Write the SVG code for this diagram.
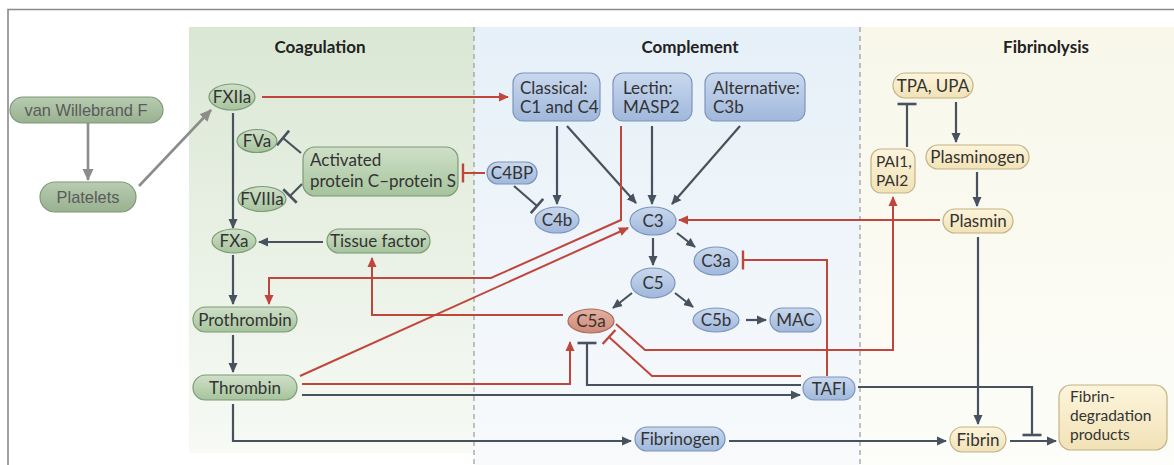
<svg xmlns="http://www.w3.org/2000/svg" width="1174" height="465" viewBox="0 0 1174 465">
<defs>
  <linearGradient id="bgCoag" x1="0" y1="0" x2="0" y2="1">
    <stop offset="0" stop-color="#dae7d4"/><stop offset="1" stop-color="#f7faf5"/>
  </linearGradient>
  <linearGradient id="bgComp" x1="0" y1="0" x2="0" y2="1">
    <stop offset="0" stop-color="#e6f0f8"/><stop offset="1" stop-color="#f8fafc"/>
  </linearGradient>
  <linearGradient id="bgFib" x1="0" y1="0" x2="0" y2="1">
    <stop offset="0" stop-color="#f8f7ea"/><stop offset="1" stop-color="#fdfdf9"/>
  </linearGradient>
  <linearGradient id="gGreen" x1="0" y1="0" x2="0" y2="1">
    <stop offset="0" stop-color="#cfe0c8"/><stop offset="1" stop-color="#a6c49d"/>
  </linearGradient>
  <linearGradient id="gGray" x1="0" y1="0" x2="0" y2="1">
    <stop offset="0" stop-color="#b8ccb1"/><stop offset="1" stop-color="#98b18f"/>
  </linearGradient>
  <linearGradient id="gBlue" x1="0" y1="0" x2="0" y2="1">
    <stop offset="0" stop-color="#c9d8ee"/><stop offset="1" stop-color="#a0b8dc"/>
  </linearGradient>
  <linearGradient id="gYellow" x1="0" y1="0" x2="0" y2="1">
    <stop offset="0" stop-color="#fdf5dc"/><stop offset="1" stop-color="#f1e2b6"/>
  </linearGradient>
  <linearGradient id="gRed" x1="0" y1="0" x2="0" y2="1">
    <stop offset="0" stop-color="#e5b0a0"/><stop offset="1" stop-color="#cf8a77"/>
  </linearGradient>
  <marker id="aDark" markerUnits="userSpaceOnUse" viewBox="0 -5 10 10" refX="9" refY="0" markerWidth="10" markerHeight="10" orient="auto">
    <path d="M0,-4.5 L10,0 L0,4.5 z" fill="#48525f"/>
  </marker>
  <marker id="aRed" markerUnits="userSpaceOnUse" viewBox="0 -5 10 10" refX="9" refY="0" markerWidth="10" markerHeight="10" orient="auto">
    <path d="M0,-4.5 L10,0 L0,4.5 z" fill="#c0463c"/>
  </marker>
  <marker id="aGray" markerUnits="userSpaceOnUse" viewBox="0 -6 12 12" refX="11" refY="0" markerWidth="12" markerHeight="12" orient="auto">
    <path d="M0,-5.5 L12,0 L0,5.5 z" fill="#8c8c8c"/>
  </marker>
  <marker id="tDark" markerUnits="userSpaceOnUse" viewBox="-2 -10 4 20" refX="0" refY="0" markerWidth="4" markerHeight="20" orient="auto">
    <path d="M0,-9.5 V9.5" stroke="#48525f" stroke-width="2.6"/>
  </marker>
  <marker id="tRed" markerUnits="userSpaceOnUse" viewBox="-2 -10 4 20" refX="0" refY="0" markerWidth="4" markerHeight="20" orient="auto">
    <path d="M0,-9.5 V9.5" stroke="#c0463c" stroke-width="2.4"/>
  </marker>
  <style>
    .title{font-family:Lato,"Open Sans",sans-serif;font-weight:bold;font-size:17px;fill:#222;text-anchor:middle}
    .lbl{font-family:Lato,"Open Sans",sans-serif;font-size:17px;fill:#333;text-anchor:middle}
    .lbll{font-family:Lato,"Open Sans",sans-serif;font-size:17px;fill:#333}
    .small{font-size:15.5px}
    .glbl{font-family:"Liberation Sans",Arial,sans-serif;font-size:16.4px;fill:#5a5a5a;text-anchor:middle}
    .green{fill:url(#gGreen);stroke:#7d9a75;stroke-width:1.2}
    .gray{fill:url(#gGray);stroke:#7e9877;stroke-width:1.2}
    .blue{fill:url(#gBlue);stroke:#7d94bb;stroke-width:1.2}
    .yellow{fill:url(#gYellow);stroke:#c2b286;stroke-width:1.2}
    .red{fill:url(#gRed);stroke:#a56a5b;stroke-width:1.2}
    .cd{fill:none;stroke:#48525f;stroke-width:2.2}
    .cr{fill:none;stroke:#c0463c;stroke-width:2}
    .cg{fill:none;stroke:#8c8c8c;stroke-width:2.6}
    .ad{marker-end:url(#aDark)}
    .ar{marker-end:url(#aRed)}
    .ag{marker-end:url(#aGray)}
    .td{marker-end:url(#tDark)}
    .tr{marker-end:url(#tRed)}
    .dash{stroke:#9a9a9a;stroke-width:1.2;stroke-dasharray:5 4;fill:none}
  </style>
</defs>

<rect x="0" y="0" width="1174" height="465" fill="#ffffff"/>
<path d="M8,465 V9.5 H1174" fill="none" stroke="#8a8a8a" stroke-width="1.6"/>

<g id="panels">
  <rect x="189" y="27" width="285" height="426" fill="url(#bgCoag)"/>
  <rect x="474" y="27" width="386" height="438" fill="url(#bgComp)"/>
  <rect x="860" y="27" width="314" height="438" fill="url(#bgFib)"/>
  <line class="dash" x1="474" y1="27" x2="474" y2="465"/>
  <line class="dash" x1="860" y1="27" x2="860" y2="465"/>
  <text class="title" x="320" y="53">Coagulation</text>
  <text class="title" x="690" y="53">Complement</text>
  <text class="title" x="1046" y="53">Fibrinolysis</text>
</g>

<g id="connectors">
  <path class="cg ag" d="M88,123 V180"/>
  <path class="cg ag" d="M139,186 L211,110"/>

  <path class="cd ad" d="M233,113 V228"/>
  <path class="cd ad" d="M323,242 H259"/>
  <path class="cd ad" d="M233,255 V304"/>
  <path class="cd ad" d="M233,335 V372"/>
  <path class="cd ad" d="M302,395 H800"/>
  <path class="cd ad" d="M233,404 V441 H631"/>
  <path class="cd ad" d="M729,441 H946"/>
  <path class="cd ad" d="M1010,441 H1056"/>
  <path class="cd ad" d="M978,237 V424"/>
  <path class="cd ad" d="M956,102 V142"/>
  <path class="cd ad" d="M977,172 V206"/>
  <path class="cd td" d="M907,147 V104"/>
  <path class="cd td" d="M858,387 H1032 V435"/>
  <path class="cd td" d="M301,153 L283,138"/>
  <path class="cd td" d="M302,184 L290,196"/>
  <path class="cd td" d="M514,186 L537,206"/>
  <path class="cd ad" d="M557,126 V204"/>
  <path class="cd ad" d="M567,126 L636,203"/>
  <path class="cd ad" d="M652,126 V204"/>
  <path class="cd ad" d="M740,126 L672,204"/>
  <path class="cd ad" d="M653,238 V265"/>
  <path class="cd ad" d="M677,233 L695,247"/>
  <path class="cd ad" d="M632,293 L613,308"/>
  <path class="cd ad" d="M675,293 L693,307"/>
  <path class="cd ad" d="M746,320 H766"/>
  <path class="cd td" d="M801,385 H587 V343"/>

  <path class="cr ar" d="M262,97 H508"/>
  <path class="cr tr" d="M485,173 H463"/>
  <path class="cr ar" d="M621,126 V220 L491,278 H269 V304"/>
  <path class="cr ar" d="M300,376 L628,228"/>
  <path class="cr ar" d="M302,384 H570 V342"/>
  <path class="cr ar" d="M563,315 H372 V258"/>
  <path class="cr ar" d="M940,220 H679"/>
  <path class="cr ar" d="M616,324 L645,350 H893 V197"/>
  <path class="cr tr" d="M827,376 V260 H743"/>
  <path class="cr tr" d="M801,376 H652 L609,337"/>
</g>

<g id="node-vwf"><rect class="gray" x="10" y="97" width="153" height="26" rx="13"/><text class="glbl" x="86" y="116">van Willebrand F</text></g>
<g id="node-platelets"><rect class="gray" x="40" y="182" width="96" height="30" rx="15"/><text class="glbl" x="88" y="203">Platelets</text></g>

<g id="node-fxiia"><ellipse class="green" cx="232" cy="97" rx="23" ry="13"/><text class="lbl" x="232" y="103">FXIIa</text></g>
<g id="node-fva"><ellipse class="green" cx="257" cy="141" rx="20" ry="11.5"/><text class="lbl" x="257" y="147">FVa</text></g>
<g id="node-fviiia"><ellipse class="green" cx="262" cy="199" rx="24" ry="12.5"/><text class="lbl" x="262" y="205">FVIIIa</text></g>
<g id="node-apc"><rect class="green" x="303" y="147" width="155" height="49" rx="12"/><text class="lbll" x="310" y="166">Activated</text><text class="lbll" x="310" y="187">protein C–protein S</text></g>
<g id="node-fxa"><ellipse class="green" cx="234" cy="241" rx="22" ry="12"/><text class="lbl" x="234" y="247">FXa</text></g>
<g id="node-tissue"><rect class="green" x="327" y="229" width="103" height="24" rx="12"/><text class="lbl" x="378" y="247">Tissue factor</text></g>
<g id="node-prothrombin"><rect class="green" x="193" y="307" width="104" height="25" rx="12.5"/><text class="lbl" x="245" y="325.5">Prothrombin</text></g>
<g id="node-thrombin"><rect class="green" x="193" y="375" width="104" height="25" rx="12.5"/><text class="lbl" x="245" y="393.5">Thrombin</text></g>

<g id="node-classical"><rect class="blue" x="513" y="73" width="87" height="48" rx="10"/><text class="lbll" x="520" y="94">Classical:</text><text class="lbll" x="520" y="113">C1 and C4</text></g>
<g id="node-lectin"><rect class="blue" x="613" y="73" width="79" height="48" rx="10"/><text class="lbll" x="623" y="94">Lectin:</text><text class="lbll" x="623" y="113">MASP2</text></g>
<g id="node-alternative"><rect class="blue" x="705" y="73" width="100" height="48" rx="10"/><text class="lbll" x="713" y="94">Alternative:</text><text class="lbll" x="713" y="113">C3b</text></g>
<g id="node-c4bp"><rect class="blue" x="487" y="162" width="50" height="22" rx="11"/><text class="lbl" x="512" y="179">C4BP</text></g>
<g id="node-c4b"><ellipse class="blue" cx="557" cy="220" rx="22" ry="13"/><text class="lbl" x="557" y="226">C4b</text></g>
<g id="node-c3"><ellipse class="blue" cx="653" cy="221" rx="23" ry="14"/><text class="lbl" x="653" y="227">C3</text></g>
<g id="node-c3a"><ellipse class="blue" cx="716" cy="261" rx="22" ry="14"/><text class="lbl" x="716" y="267">C3a</text></g>
<g id="node-c5"><ellipse class="blue" cx="653" cy="283" rx="22" ry="15"/><text class="lbl" x="653" y="289">C5</text></g>
<g id="node-c5a"><ellipse class="red" cx="591" cy="321" rx="23" ry="12"/><text class="lbl" x="591" y="327">C5a</text></g>
<g id="node-c5b"><ellipse class="blue" cx="716" cy="320" rx="23" ry="12"/><text class="lbl" x="716" y="326">C5b</text></g>
<g id="node-mac"><rect class="blue" x="770" y="308" width="51" height="24" rx="12"/><text class="lbl" x="795.5" y="326">MAC</text></g>
<g id="node-tafi"><rect class="blue" x="803" y="377" width="52" height="23" rx="11.5"/><text class="lbl" x="829" y="394.5">TAFI</text></g>
<g id="node-fibrinogen"><rect class="blue" x="635" y="427" width="90" height="24" rx="12"/><text class="lbl" x="680" y="445">Fibrinogen</text></g>

<g id="node-tpa"><rect class="yellow" x="893" y="73" width="80" height="25" rx="12.5"/><text class="lbl" x="933" y="91.5">TPA, UPA</text></g>
<g id="node-pai"><rect class="yellow" x="871" y="149" width="44" height="44" rx="10"/><text class="lbll small" x="876" y="167">PAI1,</text><text class="lbll small" x="876" y="186">PAI2</text></g>
<g id="node-plasminogen"><rect class="yellow" x="926" y="145" width="103" height="24" rx="12"/><text class="lbl" x="977.5" y="163">Plasminogen</text></g>
<g id="node-plasmin"><rect class="yellow" x="943" y="209" width="70" height="24" rx="12"/><text class="lbl" x="978" y="227">Plasmin</text></g>
<g id="node-fibrin"><rect class="yellow" x="950" y="427" width="56" height="25" rx="12.5"/><text class="lbl" x="978" y="445.5">Fibrin</text></g>
<g id="node-fdp"><rect class="yellow" x="1059" y="385" width="108" height="65" rx="12"/><text class="lbll small" x="1070" y="402">Fibrin-</text><text class="lbll small" x="1070" y="421">degradation</text><text class="lbll small" x="1070" y="440">products</text></g>
</svg>
